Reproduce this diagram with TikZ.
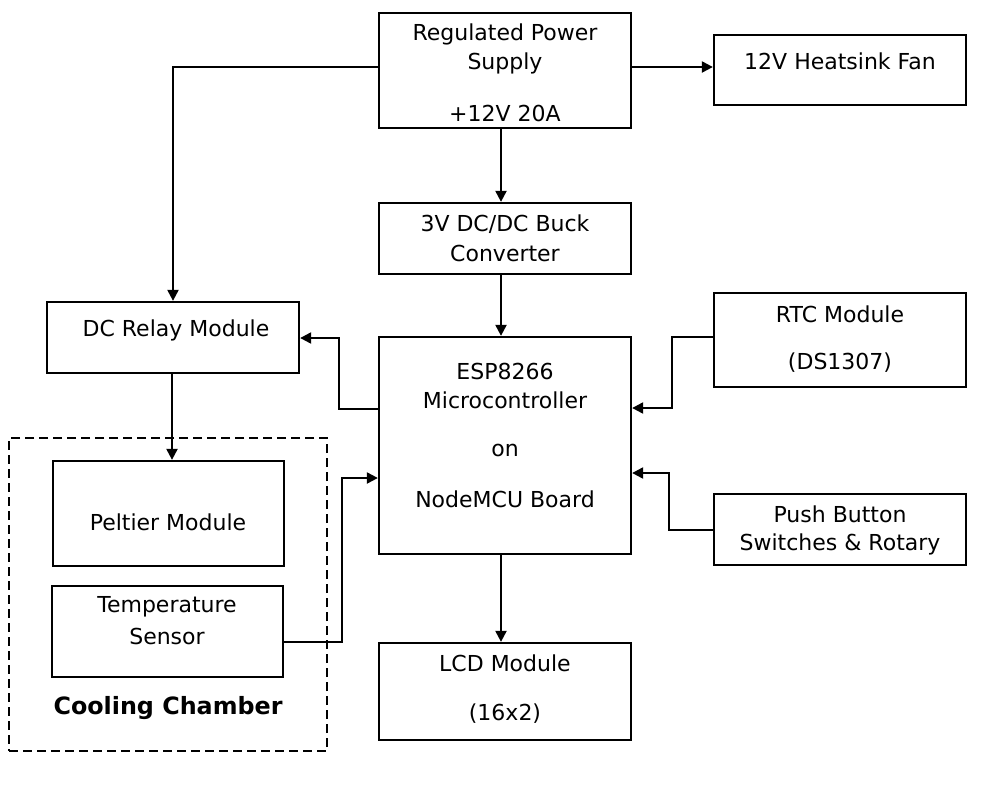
\documentclass[tikz,border=0pt]{standalone}
\usepackage{fontspec}
\setmainfont{DejaVu Sans}
\usetikzlibrary{arrows.meta}
\begin{document}
\begin{tikzpicture}[x=1pt,y=-1pt,
  box/.style={draw=black, line width=2.3pt, inner sep=0pt},
  lbl/.style={font=\fontsize{22}{26}\selectfont, inner sep=0pt, anchor=center},
  conn/.style={line width=2.2pt, -{Triangle[length=11pt,width=11pt]}},
  wire/.style={line width=2.2pt}]
\useasboundingbox (0,0) rectangle (1006,788);
% boxes
\node[box, minimum width=252pt, minimum height=115pt] (psu) at (505,70.5) {};
\node[box, minimum width=252pt, minimum height=70pt] (fan) at (840,70) {};
\node[box, minimum width=252pt, minimum height=71pt] (buck) at (505,238.5) {};
\node[box, minimum width=252pt, minimum height=71pt] (relay) at (173,337.5) {};
\node[box, minimum width=252pt, minimum height=217pt] (esp) at (505,445.5) {};
\node[box, minimum width=252pt, minimum height=94pt] (rtc) at (840,340) {};
\node[box, minimum width=252pt, minimum height=71pt] (push) at (840,529.5) {};
\node[box, minimum width=252pt, minimum height=97pt] (lcd) at (505,691.5) {};
\node[box, minimum width=231pt, minimum height=105pt] (pelt) at (168.5,513.5) {};
\node[box, minimum width=231pt, minimum height=91pt] (temp) at (167.5,631.5) {};
\node[draw=black, line width=2.2pt, dash pattern=on 9pt off 5pt, minimum width=318pt, minimum height=313pt, inner sep=0pt] (cham) at (168,594.5) {};
% texts
\node[lbl] (t1) at (505,34) {Regulated Power};
\node[lbl] (t2) at (505,63) {Supply};
\node[lbl] (t3) at (505,113) {+12V 20A};
\node[lbl] (t4) at (840,61) {12V Heatsink Fan};
\node[lbl] (t5) at (505,224) {3V DC/DC Buck};
\node[lbl] (t6) at (505,253) {Converter};
\node[lbl] (t7) at (176,330) {DC Relay Module};
\node[lbl] (t8) at (505,371) {ESP8266};
\node[lbl] (t9) at (505,400) {Microcontroller};
\node[lbl] (t10) at (505,450) {on};
\node[lbl] (t11) at (505,499) {NodeMCU Board};
\node[lbl] (t12) at (840,314) {RTC Module};
\node[lbl] (t13) at (840,363) {(DS1307)};
\node[lbl] (t14) at (840,514) {Push Button};
\node[lbl] (t15) at (840,544) {Switches \& Rotary};
\node[lbl] (t16) at (505,663) {LCD Module};
\node[lbl] (t17) at (505,714) {(16x2)};
\node[lbl] (t18) at (168,522) {Peltier Module};
\node[lbl] (t19) at (167,607) {Temperature};
\node[lbl] (t20) at (167,636) {Sensor};
\node[lbl, font=\fontsize{23.8}{28}\selectfont\bfseries] (t21) at (168,708) {Cooling Chamber};
% connectors
\draw[conn] (psu.west |- 0,67) -| (relay.north);
\draw[conn] (psu.east |- 0,67) -- (fan.west |- 0,67);
\draw[conn] (psu.south -| 501,0) -- (buck.north -| 501,0);
\draw[conn] (buck.south -| 501,0) -- (esp.north -| 501,0);
\draw[conn] (esp.west |- 0,409) -- (339,409) |- (relay.east |- 0,338);
\draw[conn] (relay.south -| 172,0) -- (pelt.north -| 172,0);
\draw[conn] (temp.east |- 0,642) -- (342,642) |- (esp.west |- 0,478);
\draw[conn] (rtc.west |- 0,337) -- (672,337) |- (esp.east |- 0,408);
\draw[conn] (push.west |- 0,530) -- (669,530) |- (esp.east |- 0,473);
\draw[conn] (esp.south -| 501,0) -- (lcd.north -| 501,0);
\end{tikzpicture}
\end{document}
